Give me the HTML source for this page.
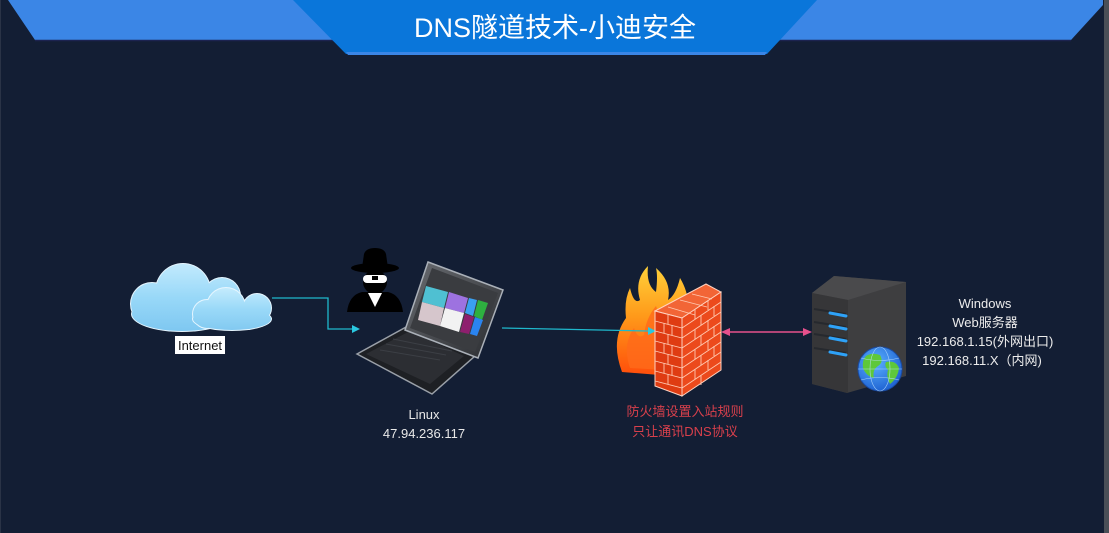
<!DOCTYPE html>
<html><head><meta charset="utf-8">
<style>
html,body{margin:0;padding:0;background:#131e34;}
body{width:1109px;height:533px;overflow:hidden;position:relative;font-family:"Liberation Sans","Noto Sans CJK SC",sans-serif;}
svg{position:absolute;left:0;top:0;}
.t{font-family:"Liberation Sans","Noto Sans CJK SC",sans-serif;}
</style></head>
<body>
<svg width="1109" height="533" viewBox="0 0 1109 533" xmlns="http://www.w3.org/2000/svg">
<defs>
<linearGradient id="cl" gradientUnits="userSpaceOnUse" x1="0" y1="262" x2="0" y2="334">
<stop offset="0" stop-color="#c4ebfd"/><stop offset="0.5" stop-color="#98d8f8"/><stop offset="1" stop-color="#7cc6f0"/>
</linearGradient>
<linearGradient id="cl2" gradientUnits="userSpaceOnUse" x1="0" y1="286" x2="0" y2="332">
<stop offset="0" stop-color="#c8edfd"/><stop offset="0.5" stop-color="#9ad9f8"/><stop offset="1" stop-color="#80c8f0"/>
</linearGradient>
<linearGradient id="fl" gradientUnits="userSpaceOnUse" x1="0" y1="265" x2="0" y2="378">
<stop offset="0" stop-color="#ffd23a"/><stop offset="0.45" stop-color="#ff9a1a"/><stop offset="1" stop-color="#ff4a0a"/>
</linearGradient>
<radialGradient id="gl" cx="0.4" cy="0.35" r="0.7">
<stop offset="0" stop-color="#5ab0ff"/><stop offset="1" stop-color="#1c5fd0"/>
</radialGradient>
<linearGradient id="lp" x1="0" y1="0" x2="1" y2="1">
<stop offset="0" stop-color="#6a6d72"/><stop offset="1" stop-color="#2a2c30"/>
</linearGradient>
</defs>
<rect width="1109" height="533" fill="#131e34"/>
<rect x="1104" y="0" width="5" height="533" fill="#4a4f57"/>
<rect x="0" y="0" width="1" height="533" fill="#2a3346"/>
<!-- header bands -->
<polygon points="8,0 1103,0 1103,5 1071,40 35,40" fill="#3b86e6"/>
<line x1="35" y1="40.5" x2="1071" y2="40.5" stroke="#1c2350" stroke-width="1.5"/>
<polygon points="293,0 817,0 767,54 346,54" fill="#0a76da"/>
<polygon points="346,52 767,52 765,55 348,55" fill="#3b86e6"/>
<text x="555" y="37" text-anchor="middle" font-size="27" fill="#ffffff" class="t">DNS隧道技术-小迪安全</text>

<!-- cloud back -->
<g fill="#e6f6ff">
<circle cx="152" cy="304" r="22"/>
<circle cx="183" cy="291" r="28"/>
<circle cx="222" cy="296" r="19"/>
<ellipse cx="182" cy="314" rx="51" ry="18"/>
</g>
<g fill="url(#cl)">
<circle cx="152" cy="304" r="21"/>
<circle cx="183" cy="291" r="27"/>
<circle cx="222" cy="296" r="18"/>
<ellipse cx="182" cy="314" rx="50" ry="17"/>
</g>
<!-- cloud front -->
<g fill="#e6f6ff">
<circle cx="207" cy="314" r="15"/>
<circle cx="226" cy="307" r="20"/>
<circle cx="257" cy="308" r="15"/>
<ellipse cx="232" cy="319" rx="40" ry="12"/>
</g>
<g fill="url(#cl2)">
<circle cx="207" cy="314" r="14"/>
<circle cx="226" cy="307" r="19"/>
<circle cx="257" cy="308" r="14"/>
<ellipse cx="232" cy="319" rx="39" ry="11"/>
</g>
<rect x="175" y="336" width="50" height="18" fill="#ffffff"/>
<text x="200" y="350" text-anchor="middle" font-size="13" fill="#111" class="t">Internet</text>

<!-- connector cloud -> laptop -->
<polyline points="272,298 328,298 328,329 353,329" fill="none" stroke="#1fb8cc" stroke-width="1.3"/>
<polygon points="360,329 352,325 352,333" fill="#2ac8e0"/>

<!-- hacker -->
<g fill="#000">
<ellipse cx="375" cy="268" rx="24" ry="5"/>
<path d="M362,268 L364,254 Q366,248 375,248 Q384,248 386,254 L388,268 Z"/>
<circle cx="375" cy="282" r="12"/>
<path d="M347,312 Q349,295 362,292 L388,292 Q401,295 403,312 Z"/>
</g>
<rect x="363" y="275" width="24" height="8" rx="4" fill="#fff"/>
<rect x="372" y="276" width="6" height="4" fill="#000"/>
<polygon points="368,293 382,293 375,307" fill="#fff"/>

<!-- laptop -->
<polygon points="357,354 408,326 475,356 432,394" fill="#1e2024" stroke="#9aa0a8" stroke-width="1.5"/>
<polygon points="366,354 410,331 464,356 430,384" fill="#2c2e33"/>
<g stroke="#3c3f45" stroke-width="1">
<line x1="380" y1="350" x2="440" y2="360"/>
<line x1="386" y1="344" x2="446" y2="355"/>
<line x1="393" y1="339" x2="452" y2="351"/>
</g>
<polygon points="428,262 503,290 478,358 405,330" fill="url(#lp)" stroke="#aab0b8" stroke-width="1.5"/>
<polygon points="432,268 498,293 475,352 410,328" fill="#3a3c40"/>
<!-- screen tiles -->
<g>
<polygon points="426,286 448,292 444,308 422,302" fill="#4fc0d2"/>
<polygon points="449,292 468,298 464,313 445,308" fill="#9d72e0"/>
<polygon points="469,298 477,300 473,316 465,313" fill="#3aa0f0"/>
<polygon points="478,300 488,303 482,320 474,316" fill="#2eb040"/>
<polygon points="422,302 444,308 440,326 418,320" fill="#d6c6cc"/>
<polygon points="445,308 464,313 459,332 440,326" fill="#f2f2f2"/>
<polygon points="465,314 474,317 469,334 460,332" fill="#8e1f6e"/>
<polygon points="475,317 483,320 477,336 470,334" fill="#2a84f0"/>
</g>
<text x="424" y="419" text-anchor="middle" font-size="13" fill="#e8e8e8" class="t">Linux</text>
<text x="424" y="438" text-anchor="middle" font-size="13" fill="#e8e8e8" class="t">47.94.236.117</text>

<!-- flames -->
<path d="M622,372 Q610,340 626,318 Q624,300 630,288 Q634,305 640,300 Q634,280 648,266 Q646,285 656,292 Q658,276 656,268 Q672,282 668,300 Q676,295 680,278 Q692,298 686,318 L690,330 Q688,360 672,376 Z" fill="url(#fl)"/>
<path d="M630,368 Q622,345 634,328 Q638,340 644,335 Q646,318 656,306 Q662,325 672,330 Q676,350 664,370 Z" fill="#ff6a1a" opacity="0.8"/>

<!-- connector laptop -> firewall -->
<line x1="502" y1="328" x2="648" y2="331" stroke="#1fb8cc" stroke-width="1.3"/>
<polygon points="656,331 648,327 648,335" fill="#2ac8e0"/>

<!-- brick wall -->
<polygon points="655,311 706,284 721,292 682,318" fill="#f26536" stroke="#ffd2c0" stroke-width="1"/>
<polygon points="655,311 682,318 682,396 655,386" fill="#df3c12" stroke="#ffd2c0" stroke-width="1"/>
<polygon points="682,318 721,292 721,370 682,396" fill="#ec4a1c" stroke="#ffd2c0" stroke-width="1"/>
<g stroke="#ffc8b0" stroke-width="0.9" fill="none">
<path d="M655,321 L682,328 L721,302"/>
<path d="M655,331 L682,338 L721,312"/>
<path d="M655,341 L682,348 L721,322"/>
<path d="M655,351 L682,358 L721,332"/>
<path d="M655,361 L682,368 L721,342"/>
<path d="M655,371 L682,378 L721,352"/>
<path d="M655,381 L682,388 L721,362"/>
<path d="M668,314 L668,324 M664,323 L664,333 M672,325 L672,335 M664,343 L664,353 M672,345 L672,355 M668,334 L668,344 M668,354 L668,364 M664,363 L664,373 M672,365 L672,375 M668,374 L668,384"/>
<path d="M695,309 L695,319 M708,300 L708,310 M701,315 L701,325 M714,306 L714,316 M695,329 L695,339 M708,320 L708,330 M701,335 L701,345 M714,326 L714,336 M695,349 L695,359 M708,340 L708,350 M701,355 L701,365 M714,346 L714,356 M695,369 L695,379 M708,360 L708,370 M701,375 L701,385"/>
<path d="M668,307 L695,315 M680,300 L707,307 M692,294 L712,299"/>
</g>
<text x="685" y="416" text-anchor="middle" font-size="13" fill="#d8404c" class="t">防火墙设置入站规则</text>
<text x="685" y="436" text-anchor="middle" font-size="13" fill="#d8404c" class="t">只让通讯DNS协议</text>

<!-- pink double arrow -->
<line x1="729" y1="332" x2="805" y2="332" stroke="#e6508c" stroke-width="1.5"/>
<polygon points="721,332 730,328 730,336" fill="#e6508c"/>
<polygon points="812,332 803,328 803,336" fill="#e6508c"/>

<!-- server -->
<polygon points="812,293 834,276 906,282 906,376 847,393 812,384" fill="#3e3e40"/>
<polygon points="812,293 834,276 906,282 848,300" fill="#4a4a4c"/>
<polygon points="812,293 848,300 848,393 812,384" fill="#363638"/>
<g stroke="#26292e" stroke-width="2">
<line x1="814" y1="309" x2="846" y2="314"/>
<line x1="814" y1="322" x2="846" y2="327"/>
<line x1="814" y1="334" x2="846" y2="339"/>
<line x1="814" y1="348" x2="846" y2="353"/>
</g>
<g stroke="#2ea2f8" stroke-width="3" stroke-linecap="round">
<line x1="830" y1="313" x2="846" y2="316"/>
<line x1="830" y1="326" x2="846" y2="329"/>
<line x1="830" y1="338" x2="846" y2="341"/>
<line x1="830" y1="352" x2="846" y2="355"/>
</g>
<!-- globe -->
<circle cx="880" cy="369" r="22" fill="url(#gl)" stroke="#1a4aa0" stroke-width="1"/>
<path d="M866,356 Q872,352 880,355 Q884,362 878,366 Q872,370 874,378 Q866,376 863,368 Q862,360 866,356 Z" fill="#5ec83a"/>
<path d="M886,362 Q896,360 899,368 Q898,378 890,384 Q886,376 888,370 Q884,366 886,362 Z" fill="#5ec83a"/>
<g stroke="#bfe3ff" stroke-width="0.6" fill="none" opacity="0.8">
<ellipse cx="880" cy="369" rx="10" ry="22"/>
<line x1="858" y1="369" x2="902" y2="369"/>
<path d="M861,358 Q880,363 899,358 M861,380 Q880,375 899,380"/>
</g>

<!-- server text -->
<g font-size="13" fill="#ececec" text-anchor="middle" class="t">
<text x="985" y="308">Windows</text>
<text x="985" y="327">Web服务器</text>
<text x="985" y="346">192.168.1.15(外网出口)</text>
<text x="982" y="365">192.168.11.X（内网)</text>
</g>
</svg>
</body></html>
